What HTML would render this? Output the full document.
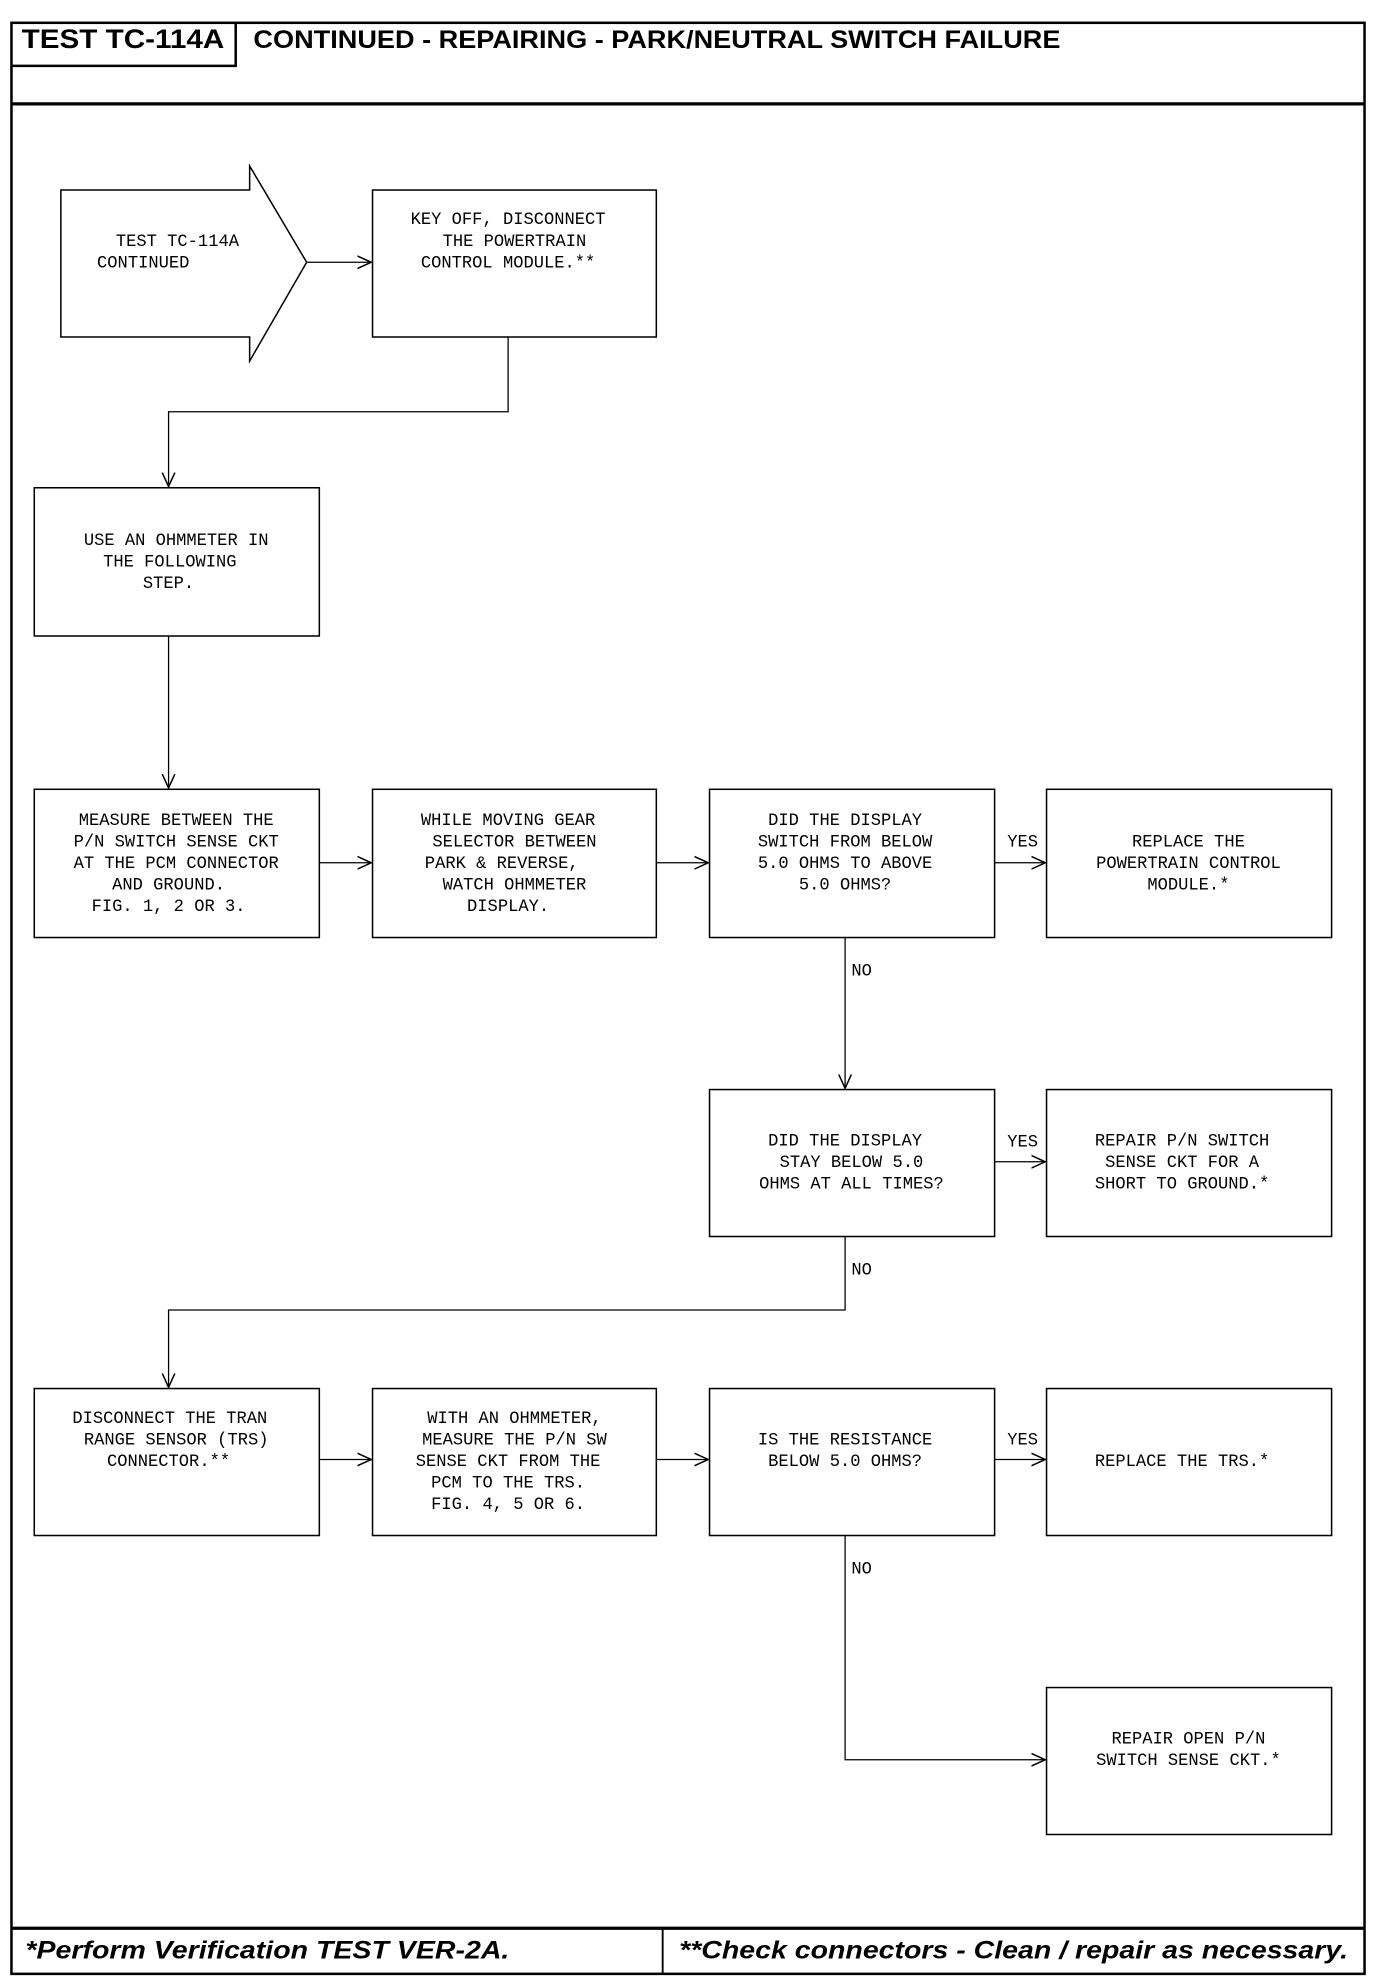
<!DOCTYPE html>
<html><head><meta charset="utf-8"><style>
html,body{margin:0;padding:0;background:#fff}
svg{display:block}
.m{font-family:"Liberation Mono",monospace;font-size:13.5px;fill:#000}
.h{font-family:"Liberation Sans",sans-serif;font-weight:bold;fill:#000}
</style></head><body>
<svg width="1376" height="1984" viewBox="0 0 1086 1566" xmlns="http://www.w3.org/2000/svg">
<defs><marker id="a" markerWidth="12" markerHeight="12" refX="11" refY="6" orient="auto" markerUnits="userSpaceOnUse"><path d="M0,1 L11,6 L0,11" fill="none" stroke="#000" stroke-width="1.2"/></marker></defs>
<g fill="none" stroke="#000">
<rect x="9" y="18" width="1068" height="1540" stroke-width="2"/>
<line x1="9" y1="82" x2="1077" y2="82" stroke-width="2.5"/>
<polyline points="9,52 186,52 186,18" stroke-width="2"/>
<line x1="9" y1="1522" x2="1077" y2="1522" stroke-width="2.5"/>
<line x1="523" y1="1522" x2="523" y2="1558" stroke-width="1.5"/>
<path d="M48,150 H197 V131 L242,207 L197,285 V266 H48 Z" stroke-width="1.2"/>
<g stroke-width="1.2">
<rect x="294" y="150" width="224" height="116"/>
<rect x="27" y="385" width="225" height="117"/>
<rect x="27" y="623" width="225" height="117"/>
<rect x="294" y="623" width="224" height="117"/>
<rect x="560" y="623" width="225" height="117"/>
<rect x="826" y="623" width="225" height="117"/>
<rect x="560" y="860" width="225" height="116"/>
<rect x="826" y="860" width="225" height="116"/>
<rect x="27" y="1096" width="225" height="116"/>
<rect x="294" y="1096" width="224" height="116"/>
<rect x="560" y="1096" width="225" height="116"/>
<rect x="826" y="1096" width="225" height="116"/>
<rect x="826" y="1332" width="225" height="116"/>
</g>
<g stroke-width="1" marker-end="url(#a)">
<line x1="242" y1="207" x2="293" y2="207"/>
<polyline points="401,266 401,325 133,325 133,384"/>
<line x1="133" y1="502" x2="133" y2="622"/>
<line x1="252" y1="681" x2="293" y2="681"/>
<line x1="518" y1="681" x2="559" y2="681"/>
<line x1="785" y1="681" x2="825" y2="681"/>
<line x1="667" y1="740" x2="667" y2="859"/>
<line x1="785" y1="917" x2="825" y2="917"/>
<polyline points="667,976 667,1034 133,1034 133,1095"/>
<line x1="252" y1="1152" x2="293" y2="1152"/>
<line x1="518" y1="1152" x2="559" y2="1152"/>
<line x1="785" y1="1152" x2="825" y2="1152"/>
<polyline points="667,1212 667,1389 825,1389"/>
</g>
</g>
<text class="h" x="17" y="38" font-size="21" textLength="160" lengthAdjust="spacingAndGlyphs">TEST TC-114A</text>
<text class="h" x="200" y="38" font-size="20" textLength="637" lengthAdjust="spacingAndGlyphs">CONTINUED - REPAIRING - PARK/NEUTRAL SWITCH FAILURE</text>
<text class="h" x="20" y="1546" font-size="20" font-style="italic" textLength="382" lengthAdjust="spacingAndGlyphs">*Perform Verification TEST VER-2A.</text>
<text class="h" x="536" y="1546" font-size="20" font-style="italic" textLength="528" lengthAdjust="spacingAndGlyphs">**Check connectors - Clean / repair as necessary.</text>
<g class="m" text-anchor="middle">
<text x="140" y="194">TEST TC-114A</text>
<text x="113" y="211">CONTINUED</text>
<text x="401" y="177">KEY OFF, DISCONNECT</text>
<text x="406" y="194">THE POWERTRAIN</text>
<text x="401" y="211">CONTROL MODULE.**</text>
<text x="139" y="430">USE AN OHMMETER IN</text>
<text x="134" y="447">THE FOLLOWING</text>
<text x="133" y="464">STEP.</text>
<text x="139" y="651">MEASURE BETWEEN THE</text>
<text x="139" y="668">P/N SWITCH SENSE CKT</text>
<text x="139" y="685">AT THE PCM CONNECTOR</text>
<text x="133" y="702">AND GROUND.</text>
<text x="133" y="719">FIG. 1, 2 OR 3.</text>
<text x="401" y="651">WHILE MOVING GEAR</text>
<text x="406" y="668">SELECTOR BETWEEN</text>
<text x="396" y="685">PARK &amp; REVERSE,</text>
<text x="406" y="702">WATCH OHMMETER</text>
<text x="401" y="719">DISPLAY.</text>
<text x="667" y="651">DID THE DISPLAY</text>
<text x="667" y="668">SWITCH FROM BELOW</text>
<text x="667" y="685">5.0 OHMS TO ABOVE</text>
<text x="667" y="702">5.0 OHMS?</text>
<text x="938" y="668">REPLACE THE</text>
<text x="938" y="685">POWERTRAIN CONTROL</text>
<text x="938" y="702">MODULE.*</text>
<text x="667" y="904">DID THE DISPLAY</text>
<text x="672" y="921">STAY BELOW 5.0</text>
<text x="672" y="938">OHMS AT ALL TIMES?</text>
<text x="933" y="904">REPAIR P/N SWITCH</text>
<text x="933" y="921">SENSE CKT FOR A</text>
<text x="933" y="938">SHORT TO GROUND.*</text>
<text x="134" y="1123">DISCONNECT THE TRAN</text>
<text x="139" y="1140">RANGE SENSOR (TRS)</text>
<text x="133" y="1157">CONNECTOR.**</text>
<text x="406" y="1123">WITH AN OHMMETER,</text>
<text x="406" y="1140">MEASURE THE P/N SW</text>
<text x="401" y="1157">SENSE CKT FROM THE</text>
<text x="401" y="1174">PCM TO THE TRS.</text>
<text x="401" y="1191">FIG. 4, 5 OR 6.</text>
<text x="667" y="1140">IS THE RESISTANCE</text>
<text x="667" y="1157">BELOW 5.0 OHMS?</text>
<text x="933" y="1157">REPLACE THE TRS.*</text>
<text x="938" y="1376">REPAIR OPEN P/N</text>
<text x="938" y="1393">SWITCH SENSE CKT.*</text>
</g>
<g class="m">
<text x="795" y="668">YES</text>
<text x="795" y="905">YES</text>
<text x="795" y="1140">YES</text>
<text x="672" y="770">NO</text>
<text x="672" y="1006">NO</text>
<text x="672" y="1242">NO</text>
</g>
</svg>
</body></html>
